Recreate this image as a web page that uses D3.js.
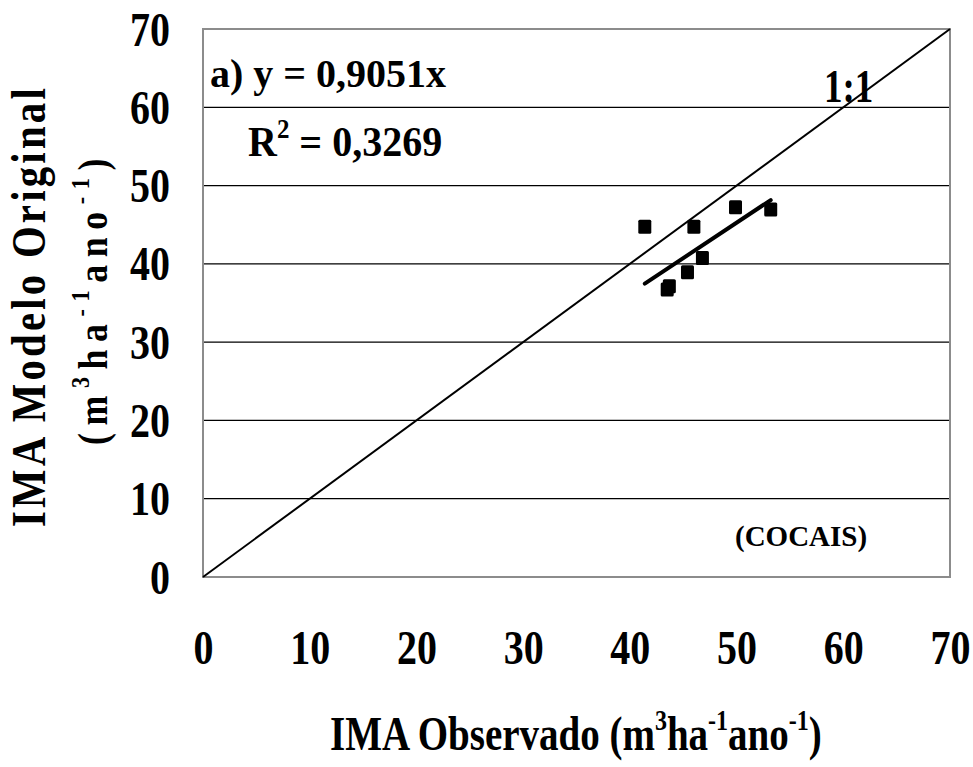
<!DOCTYPE html>
<html>
<head>
<meta charset="utf-8">
<script src="https://cdn.jsdelivr.net/npm/d3@7"></script>
<style>
  body { margin: 0; background: #fff; }
  text { font-family: "Liberation Serif", "Times New Roman", serif; font-weight: bold; fill: #000; }
</style>
</head>
<body>
<svg id="chart" width="973" height="767"></svg>
<script>
// observed vs modelled IMA (COCAIS)
const observed = [41.4, 46.0, 49.9, 53.2, 46.8, 45.4, 43.5, 43.7];
const modelled = [44.8, 44.8, 47.3, 47.0, 40.8, 39.0, 36.8, 37.2];
const slope = 0.9051;
const tickValues = [0, 10, 20, 30, 40, 50, 60, 70];

const svg = d3.select("#chart");
const margin = { left: 203, top: 29, right: 23, bottom: 190 };
const width = 973 - margin.left - margin.right;
const height = 767 - margin.top - margin.bottom;
const stretch = 1.2; // text in the original is drawn a bit tall

const x = d3.scaleLinear().domain([0, 70]).range([0, width]);
const y = d3.scaleLinear().domain([0, 70]).range([height, 0]);

const g = svg.append("g").attr("transform", `translate(${margin.left},${margin.top})`);

// horizontal gridlines
g.selectAll("line.grid")
  .data(tickValues.filter(d => d > 0 && d < 70))
  .enter()
  .append("line")
  .attr("class", "grid")
  .attr("x1", 0).attr("x2", width)
  .attr("y1", d => y(d)).attr("y2", d => y(d))
  .attr("stroke", "#000")
  .attr("stroke-width", 1.3);

// plot border
g.append("rect")
  .attr("x", 0).attr("y", 0)
  .attr("width", width).attr("height", height)
  .attr("fill", "none")
  .attr("stroke", "#8c8c8c")
  .attr("stroke-width", 2);

// 1:1 line
g.append("line")
  .attr("x1", x(0)).attr("y1", y(0))
  .attr("x2", x(70)).attr("y2", y(70))
  .attr("stroke", "#000")
  .attr("stroke-width", 2);

// trend line y = 0.9051x over the data range
const xMin = d3.min(observed), xMax = d3.max(observed);
g.append("line")
  .attr("x1", x(xMin)).attr("y1", y(slope * xMin))
  .attr("x2", x(xMax)).attr("y2", y(slope * xMax))
  .attr("stroke", "#000")
  .attr("stroke-width", 4)
  .attr("stroke-linecap", "round");

// points
const pts = observed.map((d, i) => ({ x: d, y: modelled[i] }));
const s = 13;
g.selectAll("rect.pt")
  .data(pts)
  .enter()
  .append("rect")
  .attr("class", "pt")
  .attr("x", d => x(d.x) - s / 2)
  .attr("y", d => y(d.y) - s / 2)
  .attr("width", s).attr("height", s + 1)
  .attr("rx", 1.5)
  .attr("fill", "#000");

// y axis labels
const yAxis = d3.axisLeft(y).tickValues(tickValues).tickSize(0).tickPadding(33);
const ya = g.append("g").call(yAxis);
ya.select(".domain").remove();
ya.selectAll("text")
  .attr("font-size", 40)
  .attr("font-family", "Liberation Serif, Times New Roman, serif")
  .attr("font-weight", "bold")
  .attr("dy", 0)
  .attr("y", 16 / stretch)
  .attr("transform", `scale(1,${stretch})`);

// x axis labels
const xAxis = d3.axisBottom(x).tickValues(tickValues).tickSize(0);
const xa = g.append("g").attr("transform", `translate(0,${height})`).call(xAxis);
xa.select(".domain").remove();
xa.selectAll("text")
  .attr("font-size", 40)
  .attr("font-family", "Liberation Serif, Times New Roman, serif")
  .attr("font-weight", "bold")
  .attr("dy", 0)
  .attr("y", 87 / stretch)
  .attr("transform", `scale(1,${stretch})`);

// place a text at (px,py) with a vertical stretch
function label(px, py, size, sy) {
  return svg.append("text")
    .attr("transform", `translate(${px},${py}) scale(1,${sy})`)
    .attr("font-size", size);
}

// equation text
label(210, 87, 40, 1.02).text("a) y = 0,9051x");

const r2 = label(248, 156, 40, 1.08);
r2.append("tspan").text("R");
r2.append("tspan").attr("dy", -17).attr("font-size", 25).text("2");
r2.append("tspan").attr("dy", 17).text(" = 0,3269");

label(824, 102, 37, 1.25).text("1:1");

label(735, 546, 29, 1.05).text("(COCAIS)");

// unit label helper
function unitLabel(sel, size) {
  const sup = Math.round(size * 0.62);
  const up = -Math.round(size * 0.42);
  sel.append("tspan").text("(m");
  sel.append("tspan").attr("dy", up).attr("font-size", sup).text("3");
  sel.append("tspan").attr("dy", -up).text("ha");
  sel.append("tspan").attr("dy", up).attr("font-size", sup).text("-1");
  sel.append("tspan").attr("dy", -up).text("ano");
  sel.append("tspan").attr("dy", up).attr("font-size", sup).text("-1");
  sel.append("tspan").attr("dy", -up).text(")");
}

// x axis title
const xt = label(330, 750, 39, 1.23);
xt.append("tspan").text("IMA Observado ");
unitLabel(xt, 39);

// y axis title (two lines)
svg.append("text")
  .attr("transform", "translate(45,306) rotate(-90) scale(0.85,1)")
  .attr("text-anchor", "middle")
  .attr("font-size", 48)
  .attr("letter-spacing", 3.8)
  .text("IMA Modelo Original");

const yt2 = svg.append("text")
  .attr("transform", "translate(107,298) rotate(-90) scale(0.85,1)")
  .attr("text-anchor", "middle")
  .attr("font-size", 42)
  .attr("letter-spacing", 9);
unitLabel(yt2, 42);
</script>
</body>
</html>
